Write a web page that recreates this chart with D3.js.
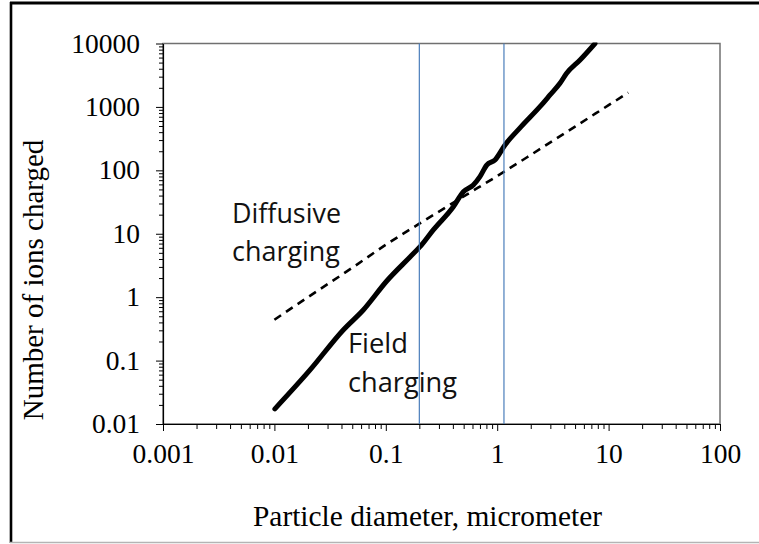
<!DOCTYPE html>
<html>
<head>
<meta charset="utf-8">
<script src="https://cdn.jsdelivr.net/npm/d3@7"></script>
<style>
  html, body { margin: 0; padding: 0; background: #fff; }
  svg { display: block; }
</style>
</head>
<body>
<svg id="chart" width="759" height="544"></svg>
<script>
// Particle diameter (micrometer) and ions charged, by charging mechanism
const fieldDiameter = [0.0101, 0.0209, 0.0415, 0.0628, 0.102, 0.165, 0.203, 0.267, 0.404, 0.497, 0.61, 0.70, 0.805, 0.955, 1.175, 1.64, 2.42, 2.98, 3.66, 4.2, 5.54, 7.55];
const fieldIons     = [0.0173, 0.0711, 0.304, 0.628, 1.80, 4.3, 6.25, 11.5, 26.7, 46, 58.7, 79.4, 121, 146, 251, 488, 1008, 1542, 2357, 3388, 5495, 10000];

const diffusiveDiameter = [0.01, 0.02, 0.05, 0.1, 0.2, 0.5, 1, 2, 5, 10, 15];
const diffusiveIons     = [0.44, 1.0, 2.91, 6.7, 14.4, 38.8, 81.3, 175, 490, 1064, 1675];

// Vertical reference lines (micrometer)
const markerDiameters = [0.2, 1.15];

// Axis ticks and their labels
const xTicks = [0.001, 0.01, 0.1, 1, 10, 100];
const xTickLabels = ["0.001", "0.01", "0.1", "1", "10", "100"];
const yTicks = [0.01, 0.1, 1, 10, 100, 1000, 10000];
const yTickLabels = ["0.01", "0.1", "1", "10", "100", "1000", "10000"];

const xTitle = "Particle diameter, micrometer";
const yTitle = "Number of ions charged";

const svg = d3.select("#chart");
const plotLeft = 163, plotRight = 720, plotTop = 43.5, plotBottom = 424;

const x = d3.scaleLog().domain([0.001, 100]).range([plotLeft, plotRight]);
const y = d3.scaleLog().domain([0.01, 10000]).range([plotBottom, plotTop]);

// minor ticks: 2..9 within each decade
function minorTicks(ticks) {
  const out = [];
  for (let i = 0; i < ticks.length - 1; i++) {
    for (let k = 2; k <= 9; k++) out.push(ticks[i] * k);
  }
  return out;
}

// outer chart frame
svg.append("line").attr("x1", 10).attr("x2", 759).attr("y1", 3).attr("y2", 3)
  .attr("stroke", "#000").attr("stroke-width", 3.2);
svg.append("line").attr("x1", 11).attr("x2", 11).attr("y1", 2).attr("y2", 543)
  .attr("stroke", "#000").attr("stroke-width", 2.6);
svg.append("line").attr("x1", 10).attr("x2", 759).attr("y1", 542.5).attr("y2", 542.5)
  .attr("stroke", "#b4b4b4").attr("stroke-width", 1.5);

// plot area frame
svg.append("rect")
  .attr("x", plotLeft).attr("y", plotTop)
  .attr("width", plotRight - plotLeft).attr("height", plotBottom - plotTop)
  .attr("fill", "none").attr("stroke", "#707070").attr("stroke-width", 1.5);

const tickFont = "'Liberation Serif', 'Times New Roman', serif";

// x axis
const xMinor = svg.append("g").attr("transform", `translate(0,${plotBottom})`)
  .call(d3.axisBottom(x).tickValues(minorTicks(xTicks)).tickSize(5).tickFormat(""));
xMinor.select(".domain").remove();
xMinor.selectAll("line").attr("stroke", "#000");

const xAxis = svg.append("g").attr("transform", `translate(0,${plotBottom})`)
  .call(d3.axisBottom(x).tickValues(xTicks).tickSize(7).tickSizeOuter(0)
    .tickFormat((d, i) => xTickLabels[i]));
xAxis.select(".domain").attr("stroke", "#000").attr("stroke-width", 1.2);
xAxis.selectAll("line").attr("stroke", "#000");
xAxis.selectAll("text")
  .attr("y", 39).attr("dy", null)
  .attr("fill", "#000")
  .style("font-family", tickFont).style("font-size", "27.5px");

// y axis
const yMinor = svg.append("g").attr("transform", `translate(${plotLeft},0)`)
  .call(d3.axisLeft(y).tickValues(minorTicks(yTicks)).tickSize(4).tickFormat(""));
yMinor.select(".domain").remove();
yMinor.selectAll("line").attr("stroke", "#000");

const yAxis = svg.append("g").attr("transform", `translate(${plotLeft},0)`)
  .call(d3.axisLeft(y).tickValues(yTicks).tickSize(7).tickSizeOuter(0)
    .tickFormat((d, i) => yTickLabels[i]));
yAxis.select(".domain").attr("stroke", "#000").attr("stroke-width", 1.2);
yAxis.selectAll("line").attr("stroke", "#000");
yAxis.selectAll("text")
  .attr("x", -23).attr("dy", "0.31em")
  .attr("fill", "#000")
  .style("font-family", tickFont).style("font-size", "27.5px");

// axis titles
svg.append("text")
  .attr("x", 427.5).attr("y", 526)
  .attr("text-anchor", "middle")
  .attr("textLength", 349).attr("lengthAdjust", "spacingAndGlyphs")
  .style("font-family", tickFont).style("font-size", "29.5px")
  .attr("fill", "#000")
  .text(xTitle);

svg.append("text")
  .attr("transform", "translate(43,280) rotate(-90)")
  .attr("text-anchor", "middle")
  .style("font-family", tickFont).style("font-size", "29px")
  .attr("fill", "#000")
  .text(yTitle);

// clip curves to the plot area
svg.append("clipPath").attr("id", "plotClip")
  .append("rect").attr("x", plotLeft).attr("y", plotTop - 1)
  .attr("width", plotRight - plotLeft).attr("height", plotBottom - plotTop + 1);

const line = d3.line()
  .x(d => x(d[0]))
  .y(d => y(d[1]))
  .curve(d3.curveMonotoneX);

const diffusive = d3.zip(diffusiveDiameter, diffusiveIons);
const field = d3.zip(fieldDiameter, fieldIons);

svg.append("path")
  .datum(diffusive)
  .attr("clip-path", "url(#plotClip)")
  .attr("d", line)
  .attr("fill", "none")
  .attr("stroke", "#000")
  .attr("stroke-width", 2.6)
  .attr("stroke-dasharray", "8,6");

svg.append("path")
  .datum(field)
  .attr("clip-path", "url(#plotClip)")
  .attr("d", line)
  .attr("fill", "none")
  .attr("stroke", "#000")
  .attr("stroke-width", 5)
  .attr("stroke-linecap", "round")
  .attr("stroke-linejoin", "round");

// curve annotations
const noteFont = "'Open Sans', 'Noto Sans', sans-serif";
const notes = [
  { text: "Diffusive", x: 232, y: 223, w: 109 },
  { text: "charging",  x: 232, y: 261, w: 108 },
  { text: "Field",     x: 348, y: 353, w: 60 },
  { text: "charging",  x: 348, y: 391.5, w: 109 }
];
svg.selectAll("text.note")
  .data(notes)
  .join("text")
  .attr("class", "note")
  .attr("x", d => d.x).attr("y", d => d.y)
  .attr("textLength", d => d.w).attr("lengthAdjust", "spacingAndGlyphs")
  .style("font-family", noteFont).style("font-size", "26.5px")
  .attr("fill", "#111")
  .text(d => d.text);

// vertical reference lines
svg.selectAll("line.marker")
  .data(markerDiameters)
  .join("line")
  .attr("class", "marker")
  .attr("x1", d => x(d)).attr("x2", d => x(d))
  .attr("y1", plotTop).attr("y2", plotBottom)
  .attr("stroke", "#4a7ebb")
  .attr("stroke-width", 1.2);
</script>
</body>
</html>
